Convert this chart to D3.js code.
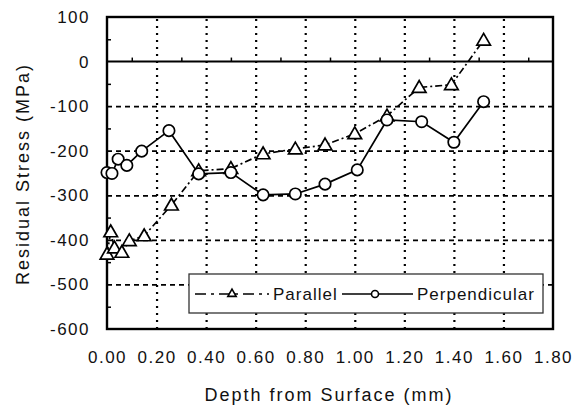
<!DOCTYPE html>
<html>
  <head>
    <meta charset="utf-8" />
    <title>Residual Stress vs Depth</title>
    <script src="https://d3js.org/d3.v7.min.js"></script>
    <style>
      body { margin: 0; background: #fff; }
      svg text { font-family: "Liberation Sans", Arial, sans-serif; fill: #111; }
      .tick text { font-size: 17px; letter-spacing: 1.5px; }
      .title { font-size: 18px; letter-spacing: 2px; }
    </style>
  </head>
  <body>
    <svg width="572" height="407"></svg>
    <script>
      // Data
      const parallelDepth = [0, 0.015, 0.03, 0.06, 0.09, 0.15, 0.26, 0.37, 0.5, 0.63, 0.76, 0.88, 1.0, 1.13, 1.26, 1.39, 1.52];
      const parallelStress = [-432, -382, -418, -428, -402, -391, -322, -245, -240, -207, -196, -187, -162, -122, -58, -52, 48];
      const perpDepth = [0, 0.02, 0.045, 0.08, 0.14, 0.25, 0.37, 0.5, 0.63, 0.76, 0.88, 1.01, 1.13, 1.27, 1.4, 1.52];
      const perpStress = [-249, -251, -219, -233, -201, -155, -252, -249, -299, -297, -275, -243, -131, -135, -181, -90];
      const xTicks = [0, 0.2, 0.4, 0.6, 0.8, 1.0, 1.2, 1.4, 1.6, 1.8];
      const yTicks = [100, 0, -100, -200, -300, -400, -500, -600];
      const seriesNames = ["Parallel", "Perpendicular"];

      const svg = d3.select("svg");
      const margin = { top: 17, right: 19, bottom: 78, left: 107 };
      const width = +svg.attr("width") - margin.left - margin.right;
      const height = +svg.attr("height") - margin.top - margin.bottom;
      const g = svg.append("g")
        .attr("transform", "translate(" + margin.left + "," + margin.top + ")");

      const x = d3.scaleLinear().domain([0, 1.8]).range([0, width]);
      const y = d3.scaleLinear().domain([-600, 100]).range([height, 0]);

      // horizontal dashed grid
      g.append("g")
        .attr("class", "grid-y")
        .call(d3.axisLeft(y).tickValues(yTicks.filter(v => v < 0 && v > -600)).tickSize(-width).tickFormat(""))
        .call(s => s.select(".domain").remove())
        .selectAll("line")
        .attr("stroke", "#000").attr("stroke-width", 1.7).attr("stroke-dasharray", "5,4");

      // vertical dotted grid
      g.append("g")
        .attr("class", "grid-x")
        .attr("transform", "translate(0," + height + ")")
        .call(d3.axisBottom(x).tickValues(xTicks.filter(v => v > 0 && v < 1.8)).tickSize(-height).tickFormat(""))
        .call(s => s.select(".domain").remove())
        .selectAll("line")
        .attr("stroke", "#000").attr("stroke-width", 2.2).attr("stroke-dasharray", "2,5");

      // zero line with minor ticks
      g.append("line")
        .attr("x1", 0).attr("x2", width)
        .attr("y1", y(0)).attr("y2", y(0))
        .attr("stroke", "#000").attr("stroke-width", 2);
      const minorX = d3.range(1, 18, 2).map(d => d / 10);
      g.append("g")
        .attr("transform", "translate(0," + y(0) + ")")
        .call(d3.axisTop(x).tickValues(minorX).tickSize(4).tickFormat(""))
        .call(s => s.select(".domain").remove())
        .selectAll("line").attr("stroke", "#000").attr("stroke-width", 1.5);

      // left minor ticks
      const minorY = d3.range(-550, 100, 100);
      g.append("g")
        .call(d3.axisRight(y).tickValues(minorY).tickSize(4).tickFormat(""))
        .call(s => s.select(".domain").remove())
        .selectAll("line").attr("stroke", "#000").attr("stroke-width", 1.5);

      // frame
      g.append("rect")
        .attr("width", width).attr("height", height)
        .attr("fill", "none").attr("stroke", "#000").attr("stroke-width", 2.4);

      // tick labels
      g.append("g")
        .attr("transform", "translate(0," + height + ")")
        .call(d3.axisBottom(x).tickValues(xTicks).tickSize(0).tickPadding(22).tickFormat(d3.format(".2f")))
        .call(s => s.select(".domain").remove())
        .selectAll("text").attr("fill", "#111");

      g.append("g")
        .call(d3.axisLeft(y).tickValues(yTicks).tickSize(0).tickPadding(17).tickFormat(d => String(d)))
        .call(s => s.select(".domain").remove())
        .selectAll("text").attr("fill", "#111");

      // axis titles
      svg.append("text")
        .attr("class", "title")
        .attr("x", margin.left + width / 2 - 1)
        .attr("y", 401)
        .attr("text-anchor", "middle")
        .text("Depth from Surface  (mm)");

      svg.append("text")
        .attr("class", "title")
        .attr("transform", "translate(29," + 174 + ") rotate(-90)")
        .attr("text-anchor", "middle")
        .text("Residual Stress  (MPa)");

      // series
      const parallelData = parallelDepth.map((d, i) => ({ x: d, y: parallelStress[i] }));
      const perpData = perpDepth.map((d, i) => ({ x: d, y: perpStress[i] }));
      const line = d3.line().x(d => x(d.x)).y(d => y(d.y));
      const tri = d3.symbol().type(d3.symbolTriangle).size(80);
      const triSmall = d3.symbol().type(d3.symbolTriangle).size(30);

      g.append("path")
        .datum(parallelData)
        .attr("d", line)
        .attr("fill", "none").attr("stroke", "#000").attr("stroke-width", 1.7)
        .attr("stroke-dasharray", "7,3,2,3");

      g.selectAll(".tri")
        .data(parallelData)
        .join("path")
        .attr("class", "tri")
        .attr("transform", d => "translate(" + x(d.x) + "," + (y(d.y) + 1) + ")")
        .attr("d", tri)
        .attr("fill", "#fff").attr("stroke", "#000").attr("stroke-width", 1.7);

      g.append("path")
        .datum(perpData)
        .attr("d", line)
        .attr("fill", "none").attr("stroke", "#000").attr("stroke-width", 1.7);

      g.selectAll(".dot")
        .data(perpData)
        .join("circle")
        .attr("class", "dot")
        .attr("cx", d => x(d.x)).attr("cy", d => y(d.y))
        .attr("r", 5.7)
        .attr("fill", "#fff").attr("stroke", "#000").attr("stroke-width", 1.7);

      // legend
      const legend = svg.append("g").attr("transform", "translate(189,274)");
      legend.append("rect")
        .attr("width", 354).attr("height", 39)
        .attr("fill", "#fff").attr("stroke", "#333").attr("stroke-width", 1.3);

      legend.append("line")
        .attr("x1", 6).attr("x2", 80).attr("y1", 20).attr("y2", 20)
        .attr("stroke", "#000").attr("stroke-width", 1.6).attr("stroke-dasharray", "11,5,3,5");
      legend.append("path")
        .attr("transform", "translate(43,20)")
        .attr("d", triSmall)
        .attr("fill", "#fff").attr("stroke", "#000").attr("stroke-width", 1.6);
      legend.append("text")
        .attr("x", 84).attr("y", 26)
        .style("font-size", "17px").style("letter-spacing", "1px")
        .text(seriesNames[0]);

      legend.append("line")
        .attr("x1", 153).attr("x2", 224).attr("y1", 20).attr("y2", 20)
        .attr("stroke", "#000").attr("stroke-width", 1.6);
      legend.append("circle")
        .attr("cx", 186).attr("cy", 20).attr("r", 3.5)
        .attr("fill", "#fff").attr("stroke", "#000").attr("stroke-width", 1.6);
      legend.append("text")
        .attr("x", 228).attr("y", 26)
        .style("font-size", "17px").style("letter-spacing", "1px")
        .text(seriesNames[1]);
    </script>
  </body>
</html>
